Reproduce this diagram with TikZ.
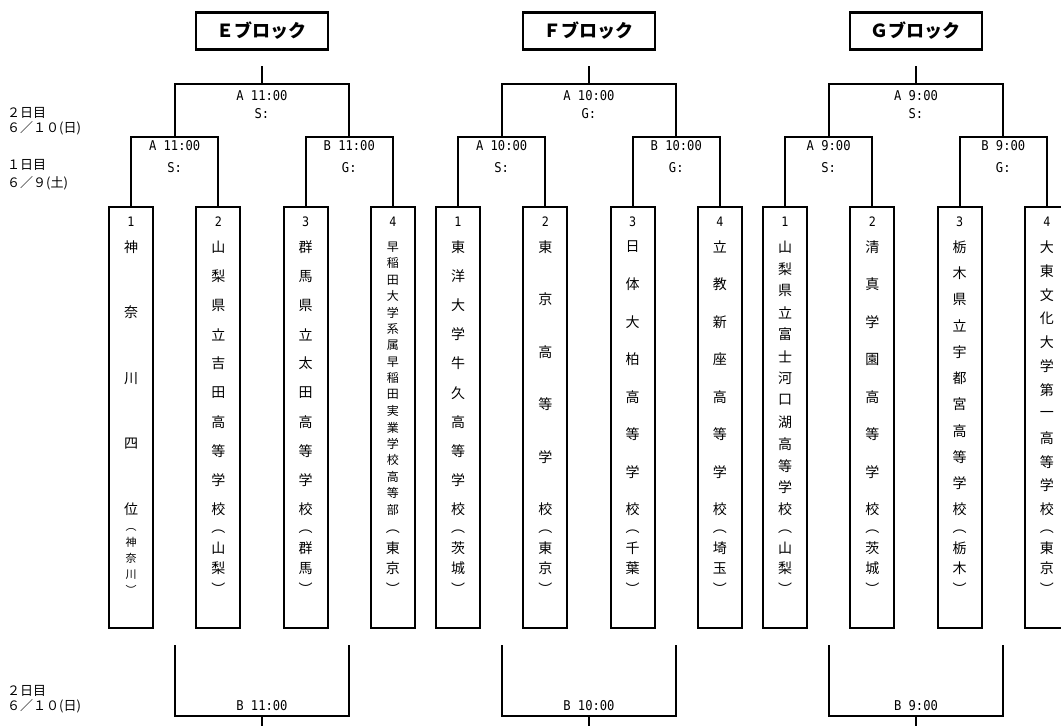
\documentclass[tikz,border=0pt]{standalone}
\usepackage{fontspec}
\setmainfont{Noto Sans CJK JP}
\newfontfamily\monofont[FakeStretch=0.9]{DejaVu Sans Mono}
\usepackage{tikz}
\usetikzlibrary{positioning}

\begin{document}
\begin{tikzpicture}[x=1pt, y=-1pt]
    \tikzset{
        head/.style         =   { draw
                                , line width=2.8pt
                                , minimum width=132pt
                                , minimum height=36.6pt
                                , font=\bfseries\fontsize{18}{18}\selectfont
        }
        , teambox/.style    =   { draw
                                , line width=2pt
                                , outer sep=0pt
                                , minimum width=44pt
                                , minimum height=421pt
                                , anchor=north
        }
        , link/.style       =   { line width=2pt }
        , num/.style        =   { inner sep=0pt
                                , font=\monofont\fontsize{13}{13}\selectfont
        }
        , time/.style       =   { inner sep=0pt
                                , align=center
                                , font=\monofont\fontsize{13.5}{21.7}\selectfont
        }
        , timetop/.style    =   { time
                                , font=\monofont\fontsize{13.5}{17.7}\selectfont
        }
        , jp/.style         =   { inner sep=0pt, font=\fontsize{14}{14}\selectfont }
        , jpsmall/.style    =   { inner sep=0pt, font=\fontsize{12}{12}\selectfont }
        , pref/.style       =   { inner sep=0pt
                                , align=center
                                , font=\fontsize{14}{20.5}\selectfont
        }
        , prefsmall/.style  =   { inner sep=0pt
                                , align=center
                                , font=\fontsize{11}{16}\selectfont
        }
        , day/.style        =   { anchor=west
                                , inner sep=0pt
                                , font=\fontsize{13}{13}\selectfont
        }
    }
    \useasboundingbox (0,0) rectangle (1061,726);
    \clip (0,0) rectangle (1061,726);

    % day labels
    \node[day] (day2)  at (7,113)   {２日目};
    \node[day] (date2) at (7,128)   {６／１０(日)};
    \node[day] (day1)  at (7,165)   {１日目};
    \node[day] (date1) at (7,183)   {６／９(土)};
    \node[day] (day3)  at (7,691)   {２日目};
    \node[day] (date3) at (7,706.7) {６／１０(日)};

    % school boxes
    \foreach \blk/\nr/\bx/\cnt/\ms/\ps/\py/\chars/\pr in {
          E/1/131/5/jp/prefsmall/561/{神,奈,川,四,位}/神\\奈\\川
        , E/2/218.3/10/jp/pref/562/{山,梨,県,立,吉,田,高,等,学,校}/山\\梨
        , E/3/305.6/10/jp/pref/562/{群,馬,県,立,太,田,高,等,学,校}/群\\馬
        , E/4/392.9/17/jpsmall/pref/562/{早,稲,田,大,学,系,属,早,稲,田,実,業,学,校,高,等,部}/東\\京
        , F/1/458/10/jp/pref/562/{東,洋,大,学,牛,久,高,等,学,校}/茨\\城
        , F/2/545.3/6/jp/pref/562/{東,京,高,等,学,校}/東\\京
        , F/3/632.6/8/jp/pref/562/{日,体,大,柏,高,等,学,校}/千\\葉
        , F/4/719.9/8/jp/pref/562/{立,教,新,座,高,等,学,校}/埼\\玉
        , G/1/785/13/jp/pref/562/{山,梨,県,立,富,士,河,口,湖,高,等,学,校}/山\\梨
        , G/2/872.3/8/jp/pref/562/{清,真,学,園,高,等,学,校}/茨\\城
        , G/3/959.6/11/jp/pref/562/{栃,木,県,立,宇,都,宮,高,等,学,校}/栃\\木
        , G/4/1046.9/12/jp/pref/562/{大,東,文,化,大,学,第,一,高,等,学,校}/東\\京
    }{
        \node[teambox] (\blk\nr) at (\bx,207) {};
        \node[num] at (\bx,221.7) {\nr};
        \foreach \ch [count=\j] in \chars
            \node[\ms] at (\bx,{247+(\j-1)*262.5/(\cnt-1)}) {\ch};
        \node[\ps] at (\bx,\py) {︵\\\pr\\︶};
    }

    % brackets
    \foreach \blk/\hd/\bx/\tm/\res in {E/Ｅ/131/11:00/S, F/Ｆ/458/10:00/G, G/Ｇ/785/9:00/S}{
        \node[head] (\blk-head) at (\bx+130.95,31) {\hd ブロック};
        \coordinate (\blk-a)   at (\bx+43.65,137);
        \coordinate (\blk-b)   at (\bx+218.25,137);
        \coordinate (\blk-c)   at (\bx+130.95,84);
        \coordinate (\blk-top) at (\bx+130.95,66);
        \coordinate (\blk-dl)  at (\bx+43.65,645);
        \coordinate (\blk-dr)  at (\bx+218.25,645);
        \coordinate (\blk-d)   at (\bx+130.95,716);
        \coordinate (\blk-bot) at (\bx+130.95,727);

        \draw[link] (\blk1.north) |- (\blk-a) -| (\blk2.north);
        \draw[link] (\blk3.north) |- (\blk-b) -| (\blk4.north);
        \draw[link] (\blk-a) |- (\blk-c) -| (\blk-b);
        \draw[link] (\blk-c) -- (\blk-top);
        \draw[link] (\blk-dl) |- (\blk-d) -| (\blk-dr);
        \draw[link] (\blk-d) -- (\blk-bot);

        \node[time, below=3.2pt of \blk-a]    {A \tm\\S:};
        \node[time, below=3.2pt of \blk-b]    {B \tm\\G:};
        \node[timetop, below=6.2pt of \blk-c] {A \tm\\\res:};
        \node[time, above=5pt of \blk-d]      {B \tm};
    }
\end{tikzpicture}
\end{document}
